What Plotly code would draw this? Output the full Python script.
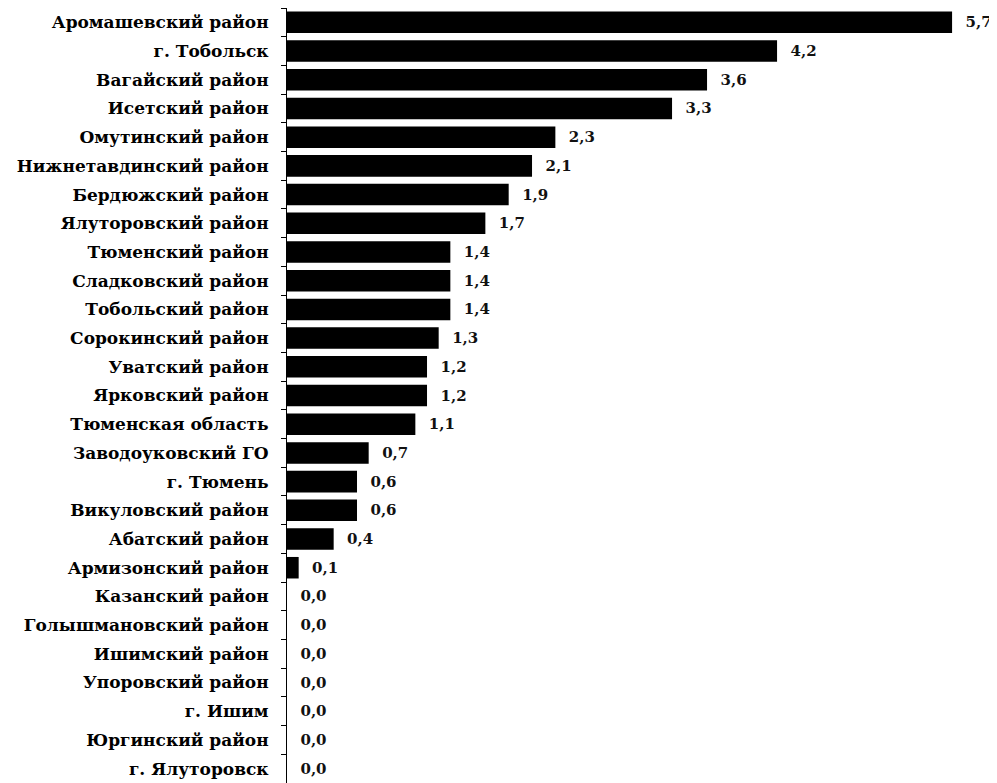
import plotly.graph_objects as go

regions = [
    "Аромашевский район", "г. Тобольск", "Вагайский район", "Исетский район",
    "Омутинский район", "Нижнетавдинский район", "Бердюжский район",
    "Ялуторовский район", "Тюменский район", "Сладковский район",
    "Тобольский район", "Сорокинский район", "Уватский район",
    "Ярковский район", "Тюменская область", "Заводоуковский ГО",
    "г. Тюмень", "Викуловский район", "Абатский район", "Армизонский район",
    "Казанский район", "Голышмановский район", "Ишимский район",
    "Упоровский район", "г. Ишим", "Юргинский район", "г. Ялуторовск",
]
values = [5.7, 4.2, 3.6, 3.3, 2.3, 2.1, 1.9, 1.7, 1.4, 1.4, 1.4, 1.3, 1.2,
          1.2, 1.1, 0.7, 0.6, 0.6, 0.4, 0.1, 0.0, 0.0, 0.0, 0.0, 0.0, 0.0, 0.0]

fig = go.Figure(go.Bar(
    y=regions, x=values, orientation="h",
    marker=dict(color="#000000", line=dict(width=0)),
    text=values, texttemplate="  %{x:.1f}", textposition="outside",
    textfont=dict(family="DejaVu Serif", size=15, color="#111111", weight="bold"),
    cliponaxis=False,
))

fig.update_layout(
    width=989, height=775,
    margin=dict(l=279, r=0, t=0, b=0),
    paper_bgcolor="white", plot_bgcolor="white",
    separators=",.",
    bargap=0.25,
    showlegend=False,
    font=dict(family="DejaVu Serif", color="#000000"),
)
fig.update_xaxes(range=[0, 6.085], visible=False, showgrid=False, zeroline=False)
fig.update_yaxes(
    categoryorder="array", categoryarray=regions, autorange="reversed",
    showline=True, linecolor="#000000", linewidth=1,
    ticks="outside", ticklen=5, tickcolor="#000000", tickson="boundaries",
    tickfont=dict(family="DejaVu Serif", size=17, color="#000000", weight="bold"),
    ticklabelstandoff=14, showgrid=False,
)

fig.write_html("out.html")
